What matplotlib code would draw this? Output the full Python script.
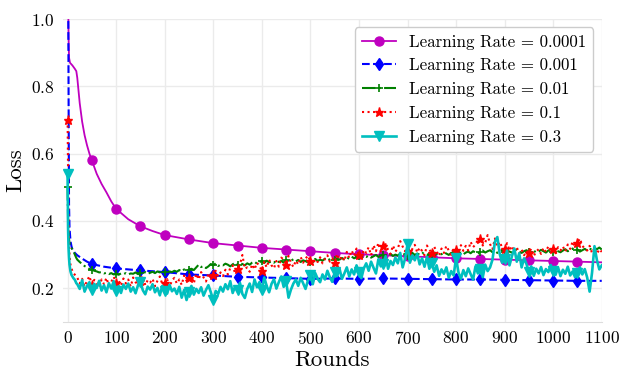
import matplotlib
matplotlib.use("Agg")
import matplotlib.pyplot as plt
import numpy as np

plt.rcParams['font.family'] = 'serif'
plt.rcParams['font.serif'] = ['cmr10']
plt.rcParams['mathtext.fontset'] = 'cm'
plt.rcParams['axes.formatter.use_mathtext'] = True

# smooth curves (lr = 0.0001 and 0.001), sampled sparsely
rounds_lr4 = [0, 1, 2, 3, 5, 10, 15, 18, 20, 25, 30, 35, 40, 45, 50, 60, 70, 80, 90, 100,
              125, 150, 175, 200, 250, 300, 350, 400, 450, 500, 550, 600, 650, 700, 750,
              800, 850, 900, 950, 1000, 1050, 1100]
loss_lr4 = [1.3, 1.1, 0.95, 0.885, 0.87, 0.862, 0.852, 0.845, 0.825, 0.75, 0.695, 0.655,
            0.625, 0.6, 0.58, 0.54, 0.51, 0.485, 0.458, 0.436,
            0.405, 0.384, 0.37, 0.358, 0.345, 0.334, 0.327, 0.32, 0.315, 0.31, 0.305, 0.301,
            0.298, 0.295, 0.292, 0.289, 0.287, 0.285, 0.283, 0.281, 0.279, 0.277]

rounds_lr3 = [0, 1, 2, 3, 4, 6, 8, 10, 15, 20, 30, 40, 50, 75, 100, 150, 200, 250, 300, 350,
              400, 450, 500, 550, 600, 650, 700, 750, 800, 850, 900, 950, 1000, 1050, 1100]
loss_lr3 = [1.6, 1.2, 0.8, 0.45, 0.38, 0.34, 0.325, 0.315, 0.305, 0.298, 0.288, 0.279, 0.272,
            0.264, 0.259, 0.253, 0.248, 0.241, 0.238, 0.234, 0.232, 0.23, 0.228, 0.229, 0.228,
            0.229, 0.228, 0.227, 0.226, 0.226, 0.225, 0.224, 0.223, 0.222, 0.222]

# noisy curves (lr = 0.01, 0.1, 0.3), every 5 rounds after the first few
rounds_fine = [0, 1, 2, 3, 4, 5, 6, 8, 10, 12, 15, 18] + list(range(20, 1101, 5))

loss_lr2 = [.50, .40, .36, .345, .335, .33, .325, .32, .315, .31, .30, .29,
            .285, .278, .272, .266, .262, .257, .255, .252, .25, .247,
            .248, .244, .246, .242, .245, .241, .243, .24, .244, .242,
            .245, .241, .244, .243, .247, .242, .246, .244, .248, .243,
            .246, .249, .245, .25, .247, .251, .248, .246, .25, .248,
            .252, .249, .254, .25, .256, .252, .255, .258, .254, .262,
            .27, .263, .266, .26, .265, .272, .268, .274, .266, .27,
            .268, .273, .27, .265, .271, .276, .27, .274, .272, .268,
            .274, .27, .276, .279, .273, .278, .28, .275, .282, .277,
            .28, .276, .283, .278, .281, .276, .284, .279, .282, .286,
            .28, .284, .278, .283, .28, .285, .279, .283, .287, .281,
            .285, .282, .288, .283, .286, .29, .284, .288, .285, .29,
            .286, .291, .288, .294, .289, .292, .296, .29, .295, .293,
            .297, .291, .295, .299, .293, .297, .3, .294, .298, .302,
            .296, .3, .297, .303, .299, .302, .297, .301, .305, .299,
            .303, .3, .306, .301, .298, .304, .3, .306, .302, .305,
            .301, .307, .303, .299, .305, .302, .308, .303, .306, .301,
            .306, .309, .304, .31, .306, .303, .309, .312, .306, .31,
            .313, .307, .311, .305, .31, .314, .308, .312, .309, .306,
            .311, .315, .309, .305, .31, .313, .308, .311, .307, .312,
            .309, .314, .31, .306, .312, .315, .309, .313, .31, .307,
            .312, .316, .31, .314, .318, .311, .315, .309, .313, .317,
            .312, .318, .314, .32, .316, .321, .315]

loss_lr1 = [.70, .55, .40, .33, .30, .28, .27, .26, .25, .245, .24, .235,
            .232, .214, .228, .205, .222, .236, .21, .225, .218, .203,
            .226, .212, .231, .207, .219, .234, .215, .223, .208, .229,
            .214, .226, .205, .232, .218, .211, .221, .238, .209, .224,
            .217, .228, .206, .222, .235, .212, .216, .227, .204, .223,
            .231, .214, .226, .21, .238, .222, .229, .236, .215, .243,
            .226, .248, .232, .22, .244, .229, .238, .252, .235, .247,
            .236, .255, .241, .26, .268, .244, .257, .271, .299, .258,
            .262, .249, .271, .256, .276, .266, .252, .279, .262, .285,
            .268, .259, .281, .264, .291, .285, .27, .296, .276, .263,
            .282, .271, .293, .276, .288, .297, .28, .27, .286, .278,
            .292, .274, .287, .298, .279, .289, .276, .302, .284, .295,
            .281, .308, .29, .312, .296, .318, .298, .292, .314, .305,
            .322, .298, .328, .31, .335, .306, .325, .331, .314, .302,
            .327, .309, .318, .34, .324, .31, .312, .303, .317, .329,
            .306, .321, .311, .298, .327, .315, .304, .323, .31, .296,
            .318, .305, .326, .312, .299, .32, .315, .308, .328, .311,
            .326, .312, .338, .322, .33, .344, .345, .327, .335, .358,
            .331, .316, .348, .324, .338, .32, .317, .334, .312, .326,
            .308, .322, .303, .315, .298, .311, .305, .318, .296, .309,
            .316, .302, .32, .308, .325, .31, .318, .304, .322, .312,
            .324, .309, .33, .317, .339, .322, .335, .348, .326, .318,
            .312, .326, .305, .32, .302, .316, .308]

loss_lr03 = [.54, .38, .32, .29, .27, .26, .25, .24, .235, .23, .225, .215,
             .212, .198, .224, .19, .207, .218, .196, .213, .201, .222,
             .193, .209, .188, .215, .199, .221, .192, .206, .186, .211,
             .198, .214, .19, .203, .185, .209, .219, .194, .182, .205,
             .196, .212, .188, .201, .179, .207, .193, .184, .21, .191,
             .199, .183, .204, .172, .195, .165, .189, .207, .181, .198,
             .186, .203, .178, .195, .209, .188, .164, .192, .183, .204,
             .19, .212, .197, .221, .186, .205, .194, .216, .183, .171,
             .198, .214, .189, .226, .203, .218, .195, .232, .207, .188,
             .213, .227, .199, .218, .235, .204, .221, .172, .196, .214,
             .226, .207, .231, .215, .198, .223, .239, .212, .245, .228,
             .218, .241, .226, .252, .233, .219, .247, .236, .258, .228,
             .244, .262, .235, .256, .241, .268, .249, .23, .259, .274,
             .252, .279, .261, .244, .286, .265, .272, .295, .258, .281,
             .269, .291, .274, .305, .262, .288, .33, .276, .298, .283,
             .302, .271, .289, .264, .293, .258, .276, .249, .268, .237,
             .256, .243, .262, .231, .251, .238, .29, .247, .228, .254,
             .236, .259, .242, .226, .265, .244, .258, .233, .27, .251,
             .262, .285, .338, .352, .301, .276, .287, .312, .268, .295,
             .318, .279, .304, .262, .289, .272, .248, .265, .237, .258,
             .244, .263, .239, .257, .248, .269, .251, .24, .262, .236,
             .255, .243, .264, .238, .25, .233, .246, .262, .241, .257,
             .232, .19, .246, .325, .284, .256, .268]


def marks(rounds):
    # a marker every 50 rounds (not on the last one)
    return [i for i, r in enumerate(rounds) if r % 50 == 0 and r < 1100]


fig, ax = plt.subplots(figsize=(6.21, 3.73), dpi=100)
fig.subplots_adjust(left=0.101, right=0.969, bottom=0.137, top=0.949)

ax.plot(rounds_lr4, loss_lr4, color='m', ls='-', lw=1.3, marker='o', ms=6.5,
        markevery=marks(rounds_lr4), label='Learning Rate = 0.0001')
ax.plot(rounds_lr3, loss_lr3, color='b', ls='--', lw=1.5, marker='d', ms=6.5,
        markevery=marks(rounds_lr3), label='Learning Rate = 0.001')
ax.plot(rounds_fine, loss_lr2, color='g', ls='-.', lw=1.5, marker='+', ms=6, mew=1.2,
        markevery=marks(rounds_fine), label='Learning Rate = 0.01')
ax.plot(rounds_fine, loss_lr1, color='r', ls=':', lw=1.5, marker='*', ms=6.5,
        markevery=marks(rounds_fine), label='Learning Rate = 0.1')
ax.plot(rounds_fine, loss_lr03, color='c', ls='-', lw=1.9, marker='v', ms=6.5,
        markevery=marks(rounds_fine), label='Learning Rate = 0.3')

ax.set_xlim(-10, 1100)
ax.set_ylim(0.1, 1.0)
ax.set_xticks(np.arange(0, 1101, 100))
ax.set_yticks([0.2, 0.4, 0.6, 0.8, 1.0])
ax.grid(color='#ebebeb', lw=1)
ax.set_axisbelow(True)
for side in ['top', 'right', 'left']:
    ax.spines[side].set_visible(False)
ax.spines['bottom'].set_color('#dddddd')
ax.tick_params(length=0, labelsize=12.5, pad=6)

ax.set_xlabel('Rounds', fontsize=16.5, labelpad=2)
ax.set_ylabel('Loss', fontsize=16.5, labelpad=4)

leg = ax.legend(loc='upper right', fontsize=12.2, framealpha=1, fancybox=True,
                handlelength=2.0)
leg.get_frame().set_edgecolor('#cccccc')

fig.savefig('out.png', dpi=100)
